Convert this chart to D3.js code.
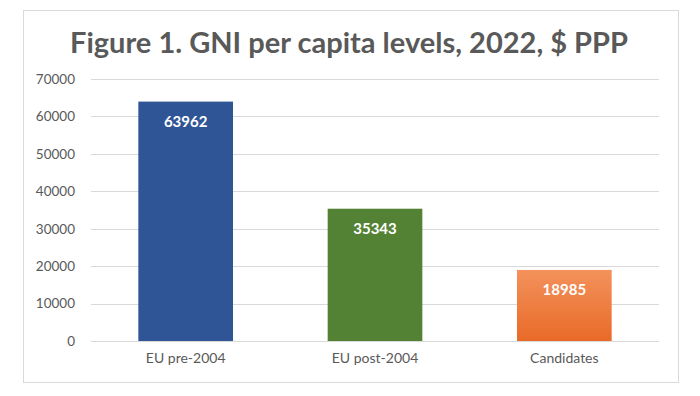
<!DOCTYPE html>
<html>
<head>
<meta charset="utf-8">
<script src="https://cdn.jsdelivr.net/npm/d3@7"></script>
<style>
  body { margin: 0; background: #fff; }
  svg { display: block; font-family: Lato, "Open Sans", sans-serif; }
</style>
</head>
<body>
<svg id="chart" width="700" height="396"></svg>
<script>
const categories = ["EU pre-2004", "EU post-2004", "Candidates"];
const values = [63962, 35343, 18985];
const yTicks = [0, 10000, 20000, 30000, 40000, 50000, 60000, 70000];
const barColors = ["#2F5597", "#548235", "url(#orangeGrad)"];

const width = 700;
const height = 396;
const margin = { top: 79, right: 41, bottom: 55, left: 91 };
const textColor = "#595959";

const svg = d3.select("#chart");

// Gradient for the orange bar
const defs = svg.append("defs");
const grad = defs.append("linearGradient")
  .attr("id", "orangeGrad")
  .attr("x1", 0).attr("y1", 0).attr("x2", 0).attr("y2", 1);
grad.append("stop").attr("offset", "0%").attr("stop-color", "#F3925C");
grad.append("stop").attr("offset", "100%").attr("stop-color", "#E96A28");

// Outer frame
svg.append("rect")
  .attr("x", 23.5).attr("y", 10.5)
  .attr("width", 655).attr("height", 372)
  .attr("fill", "#fff")
  .attr("stroke", "#d9d9d9")
  .attr("stroke-width", 1);

// Title
svg.append("text")
  .attr("x", 349)
  .attr("y", 53)
  .attr("text-anchor", "middle")
  .attr("fill", textColor)
  .attr("font-size", 29)
  .attr("font-weight", 700)
  .attr("textLength", 558)
  .attr("lengthAdjust", "spacingAndGlyphs")
  .text("Figure 1. GNI per capita levels, 2022, $ PPP");

const x = d3.scaleBand()
  .domain(categories)
  .range([margin.left, width - margin.right])
  .paddingInner(0.5)
  .paddingOuter(0.25);

const y = d3.scaleLinear()
  .domain([0, 70000])
  .range([height - margin.bottom, margin.top]);

// Gridlines
svg.append("g")
  .selectAll("line")
  .data(yTicks)
  .join("line")
  .attr("x1", margin.left)
  .attr("x2", width - margin.right)
  .attr("y1", (d) => Math.round(y(d)) + 0.5)
  .attr("y2", (d) => Math.round(y(d)) + 0.5)
  .attr("stroke", "#d9d9d9")
  .attr("stroke-width", 1);

// Y axis labels
const yAxis = svg.append("g")
  .attr("transform", `translate(${margin.left - 16},0)`)
  .call(d3.axisLeft(y).tickValues(yTicks).tickSize(0).tickPadding(0).tickFormat(d3.format("d")));
yAxis.select(".domain").remove();
yAxis.selectAll("text")
  .attr("fill", textColor)
  .attr("font-size", 13.5)
  .attr("font-family", "Lato, sans-serif");

// Bars
svg.append("g")
  .selectAll("rect")
  .data(values)
  .join("rect")
  .attr("x", (d, i) => x(categories[i]))
  .attr("y", (d) => y(d))
  .attr("width", x.bandwidth())
  .attr("height", (d) => y(0) - y(d))
  .attr("fill", (d, i) => barColors[i]);

// Value labels
svg.append("g")
  .selectAll("text")
  .data(values)
  .join("text")
  .attr("x", (d, i) => x(categories[i]) + x.bandwidth() / 2)
  .attr("y", (d) => y(d) + 25)
  .attr("text-anchor", "middle")
  .attr("fill", "#fff")
  .attr("font-size", 15)
  .attr("font-weight", 700)
  .text((d) => d);

// X axis labels
const xAxis = svg.append("g")
  .attr("transform", `translate(0,${height - margin.bottom + 12})`)
  .call(d3.axisBottom(x).tickSize(0).tickPadding(0));
xAxis.select(".domain").remove();
xAxis.selectAll("text")
  .attr("fill", textColor)
  .attr("font-size", 14)
  .attr("font-family", "Lato, sans-serif");
</script>
</body>
</html>
